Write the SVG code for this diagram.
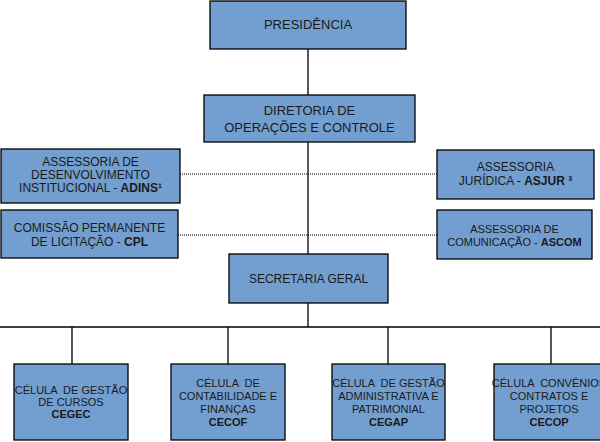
<svg xmlns="http://www.w3.org/2000/svg" width="600" height="442" viewBox="0 0 600 442">
<style>
.box{fill:#729fcf;stroke:#000;stroke-width:1.3}
text{font-family:"Liberation Sans",Arial,sans-serif;fill:#1a1a1a;text-anchor:middle}
.t13{font-size:13px}
.t12{font-size:12px}
.t11{font-size:11px}
.b{font-weight:bold}
.line{stroke:#000;stroke-width:1.3;fill:none}
.dot{stroke:#000;stroke-width:1;stroke-dasharray:1,1;fill:none}
</style>
<rect width="600" height="442" fill="#fff"/>
<g id="connectors">
<path class="line" d="M308,49V95M308,142V254M308,303V327M0,327H600M72,327V364M228,327V364M388,327V364M551,327V364"/>
<path class="dot" d="M180,174H437M178,235H437"/>
</g>
<g id="presidencia">
<rect class="box" x="210" y="1" width="196" height="48"/>
<text class="t13" x="308" y="29">PRESIDÊNCIA</text>
</g>
<g id="diretoria">
<rect class="box" x="204" y="95" width="211" height="47"/>
<text class="t13" x="309.5" y="115">DIRETORIA DE</text>
<text class="t13" x="309.5" y="132">OPERAÇÕES E CONTROLE</text>
</g>
<g id="adins">
<rect class="box" x="1" y="149" width="179" height="54"/>
<text class="t12" x="90.5" y="166">ASSESSORIA DE</text>
<text class="t12" x="90.5" y="179">DESENVOLVIMENTO</text>
<text class="t12" x="90.5" y="192">INSTITUCIONAL - <tspan class="b">ADINS¹</tspan></text>
</g>
<g id="cpl">
<rect class="box" x="1" y="210" width="177" height="48"/>
<text class="t12" x="89.5" y="232">COMISSÃO PERMANENTE</text>
<text class="t12" x="89.5" y="246">DE LICITAÇÃO - <tspan class="b">CPL</tspan></text>
</g>
<g id="asjur">
<rect class="box" x="437" y="150" width="157" height="49"/>
<text class="t12" x="515.5" y="171">ASSESSORIA</text>
<text class="t12" x="515.5" y="185">JURÍDICA - <tspan class="b">ASJUR ³</tspan></text>
</g>
<g id="ascom">
<rect class="box" x="437" y="210" width="155" height="49"/>
<text class="t11" x="514.5" y="233">ASSESSORIA DE</text>
<text class="t11" x="514.5" y="246">COMUNICAÇÃO - <tspan class="b">ASCOM</tspan></text>
</g>
<g id="secretaria">
<rect class="box" x="229" y="254" width="159" height="49"/>
<text class="t12" x="308.5" y="283">SECRETARIA GERAL</text>
</g>
<g id="cegec">
<rect class="box" x="14" y="364" width="114" height="76"/>
<text class="t11" x="71" y="394" xml:space="preserve">CÉLULA  DE GESTÃO</text>
<text class="t11" x="71" y="406">DE CURSOS</text>
<text class="t11 b" x="71" y="418">CEGEC</text>
</g>
<g id="cecof">
<rect class="box" x="171" y="364" width="114" height="76"/>
<text class="t11" x="228" y="387" xml:space="preserve">CÉLULA  DE</text>
<text class="t11" x="228" y="400">CONTABILIDADE E</text>
<text class="t11" x="228" y="413">FINANÇAS</text>
<text class="t11 b" x="228" y="426">CECOF</text>
</g>
<g id="cegap">
<rect class="box" x="332" y="364" width="113" height="76"/>
<text class="t11" x="388.5" y="387" xml:space="preserve">CÉLULA  DE GESTÃO</text>
<text class="t11" x="388.5" y="400">ADMINISTRATIVA E</text>
<text class="t11" x="388.5" y="413">PATRIMONIAL</text>
<text class="t11 b" x="388.5" y="426">CEGAP</text>
</g>
<g id="cecop">
<rect class="box" x="494" y="364" width="110" height="76"/>
<text class="t11" x="549" y="387" xml:space="preserve">CÉLULA  CONVÊNIOS</text>
<text class="t11" x="549" y="400">CONTRATOS E</text>
<text class="t11" x="549" y="413">PROJETOS</text>
<text class="t11 b" x="549" y="426">CECOP</text>
</g>
</svg>
